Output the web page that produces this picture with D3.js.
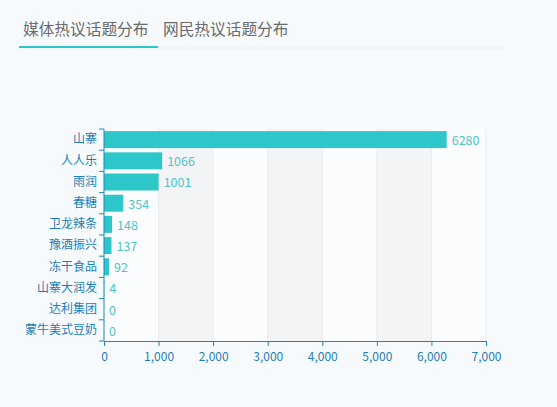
<!DOCTYPE html>
<meta charset="utf-8">
<style>
    body {
        margin: 0;
        padding: 0;
        background: #f7fafc;
        font-family: "Noto Sans CJK SC", "Noto Sans", sans-serif;
    }
</style>

<body>

<script src="https://d3js.org/d3.v7.min.js"></script>

<script>

var tabs = ["媒体热议话题分布", "网民热议话题分布"];
var categories = ["山寨", "人人乐", "雨润", "春糖", "卫龙辣条", "豫酒振兴", "冻干食品", "山寨大润发", "达利集团", "蒙牛美式豆奶"];
var values = [6280, 1066, 1001, 354, 148, 137, 92, 4, 0, 0];
var xTicks = [0, 1000, 2000, 3000, 4000, 5000, 6000, 7000];

var width = 557,
  height = 407;

var svg = d3.select("body")
  .append("svg")
  .attr("width", width)
  .attr("height", height);

// tabs
svg.append("line")
  .attr("x1", 19).attr("x2", 505)
  .attr("y1", 48).attr("y2", 48)
  .attr("stroke", "#e6ecef")
  .attr("stroke-width", 1);

svg.append("line")
  .attr("x1", 19).attr("x2", 158)
  .attr("y1", 47).attr("y2", 47)
  .attr("stroke", "#2ec7c9")
  .attr("stroke-width", 2);

svg.selectAll(".tab")
  .data(tabs)
  .enter().append("text")
  .attr("class", "tab")
  .attr("x", (d, i) => i == 0 ? 23 : 163)
  .attr("y", 35)
  .attr("font-size", 15.7)
  .attr("fill", "#6b6b6b")
  .text(d => d);

// chart
var margin = {left: 104, right: 71, top: 129, bottom: 66};
var iw = width - margin.left - margin.right,
  ih = height - margin.top - margin.bottom;

var g = svg.append("g")
  .attr("transform", "translate(" + margin.left + "," + margin.top + ")");

var x = d3.scaleLinear()
  .domain([0, 7000])
  .range([0, iw]);

var y = d3.scaleBand()
  .domain(categories)
  .range([0, ih])
  .paddingInner(0.2)
  .paddingOuter(0.1);

// split areas
g.selectAll(".area")
  .data(xTicks.slice(0, -1))
  .enter().append("rect")
  .attr("x", d => x(d))
  .attr("width", d => x(d + 1000) - x(d))
  .attr("y", 0)
  .attr("height", ih)
  .attr("fill", (d, i) => i % 2 ? "#f3f4f6" : "#fbfcfd");

g.selectAll(".grid")
  .data(xTicks.slice(1))
  .enter().append("line")
  .attr("x1", d => x(d)).attr("x2", d => x(d))
  .attr("y1", 0).attr("y2", ih)
  .attr("stroke", "#e8eaec");

// bars
g.selectAll(".bar")
  .data(values)
  .enter().append("rect")
  .attr("x", 0)
  .attr("y", (d, i) => y(categories[i]))
  .attr("width", d => x(d))
  .attr("height", y.bandwidth())
  .attr("fill", "#2ec7c9");

g.selectAll(".val")
  .data(values)
  .enter().append("text")
  .attr("x", d => x(d) + 5)
  .attr("y", (d, i) => y(categories[i]) + y.bandwidth() / 2 + 2)
  .attr("dominant-baseline", "middle")
  .attr("font-size", 12.5)
  .attr("fill", "#4fc4c8")
  .text(d => d);

// axes
var xAxis = g.append("g")
  .attr("transform", "translate(0," + ih + ")")
  .call(d3.axisBottom(x).tickValues(xTicks).tickSize(5).tickSizeOuter(0).tickFormat(d3.format(",")));

var yAxis = g.append("g")
  .call(d3.axisLeft(y).tickSize(0).tickPadding(7));

// y ticks at band boundaries
var step = y.step();
g.selectAll(".ytick")
  .data(d3.range(categories.length + 1))
  .enter().append("line")
  .attr("x1", -5).attr("x2", 0)
  .attr("y1", d => d * step).attr("y2", d => d * step)
  .attr("stroke", "#1f86b8");

[xAxis, yAxis].forEach(a => {
  a.select(".domain").attr("stroke", "#1f86b8");
  a.selectAll(".tick line").attr("stroke", "#1f86b8");
  a.selectAll("text")
    .attr("fill", "#1f7db5")
    .attr("font-size", 12)
    .attr("font-family", "\"Noto Sans CJK SC\", sans-serif");
});
xAxis.selectAll("text").attr("dy", "1em");
yAxis.select(".domain").attr("d", "M0,0V" + ih);

</script>
